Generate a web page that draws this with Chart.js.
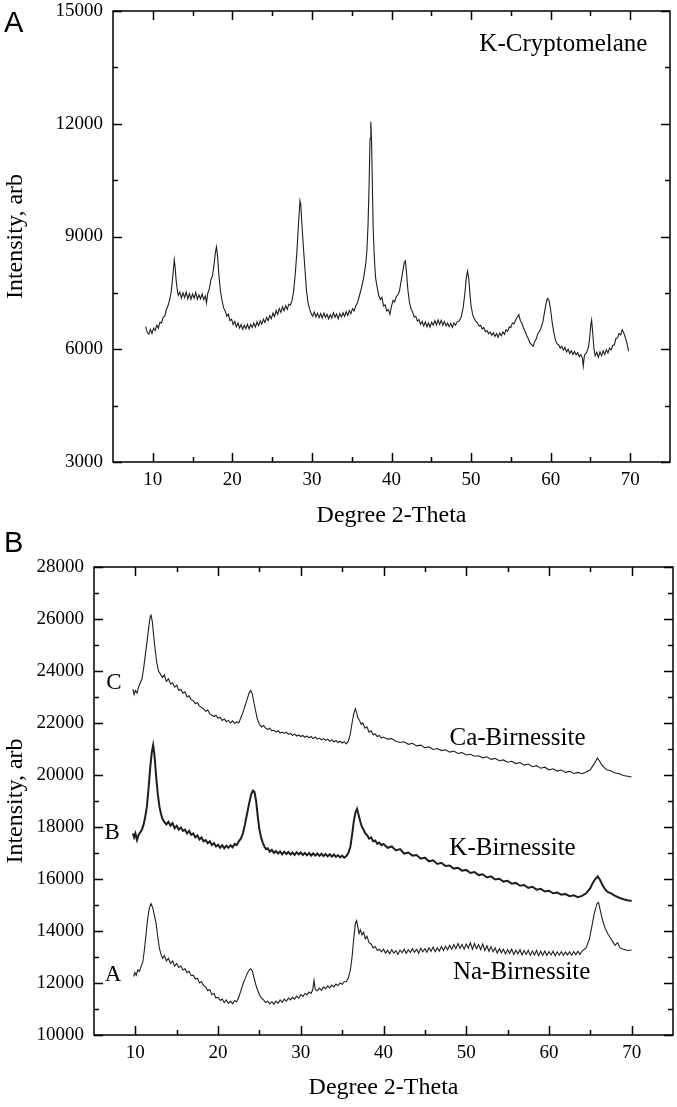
<!DOCTYPE html>
<html><head><meta charset="utf-8">
<script src="https://cdn.jsdelivr.net/npm/chart.js@4.4.1/dist/chart.umd.min.js"></script>
<style>
html,body{margin:0;padding:0;background:#fff;}
body{width:677px;height:1107px;position:relative;overflow:hidden;}
.wrap{position:absolute;left:0;width:677px;}
#wa{top:0;height:540px;}
#wb{top:540px;height:567px;}
.panel{position:absolute;left:4px;font-family:"Liberation Sans",Arial,sans-serif;font-size:29px;line-height:29px;color:#000;}
</style></head><body>
<div class="wrap" id="wa"><canvas id="ca" width="677" height="540"></canvas></div>
<div class="wrap" id="wb"><canvas id="cb" width="677" height="567"></canvas></div>
<div class="panel" style="top:8px">A</div>
<div class="panel" style="top:528px">B</div>
<script>
// ---------- Data ----------
const xMajorTicks = [10, 20, 30, 40, 50, 60, 70];
const xMinorTicks = [15, 25, 35, 45, 55, 65];
const yTicksA = [3000, 6000, 9000, 12000, 15000];
const yMinorA = [4500, 7500, 10500, 13500];
const yTicksB = [10000, 12000, 14000, 16000, 18000, 20000, 22000, 24000, 26000, 28000];
const yMinorB = [11000, 13000, 15000, 17000, 19000, 21000, 23000, 25000, 27000];

const kCryptomelane = [
[9.1,6600],[9.3,6450],[9.5,6400],[9.7,6530],[9.9,6420],[10.1,6560],[10.3,6500],[10.5,6640],[10.7,6560],[10.9,6720],
[11.1,6700],[11.3,6850],[11.5,6880],[11.7,7050],[11.9,7150],[12.1,7300],[12.3,7500],[12.45,7800],[12.6,8150],[12.7,8380],
[12.8,8200],[12.95,7800],[13.1,7550],[13.2,7430],[13.4,7520],[13.6,7360],[13.8,7500],[14,7380],[14.2,7520],[14.4,7340],
[14.6,7480],[14.8,7330],[15,7470],[15.2,7360],[15.4,7510],[15.6,7330],[15.8,7450],[16,7340],[16.2,7470],[16.4,7320],
[16.6,7420],[16.75,7230],[16.9,7480],[17.1,7600],[17.3,7850],[17.5,7950],[17.7,8250],[17.85,8550],[18,8720],[18.15,8450],
[18.3,8000],[18.5,7550],[18.7,7300],[18.9,7100],[19.1,7020],[19.3,6880],[19.5,6930],[19.7,6760],[19.9,6800],[20.1,6660],
[20.3,6740],[20.5,6600],[20.7,6700],[20.9,6560],[21.1,6660],[21.3,6530],[21.5,6640],[21.7,6550],[21.9,6660],[22.1,6540],
[22.3,6660],[22.5,6580],[22.7,6690],[22.9,6590],[23.1,6730],[23.3,6630],[23.5,6760],[23.7,6670],[23.9,6800],[24.1,6710],
[24.3,6850],[24.5,6760],[24.7,6900],[24.9,6810],[25.1,6960],[25.3,6870],[25.5,7030],[25.7,6930],[25.9,7080],[26.1,6980],
[26.3,7130],[26.5,7020],[26.7,7160],[26.9,7060],[27.1,7200],[27.3,7180],[27.5,7300],[27.7,7550],[27.9,8000],[28.1,8550],
[28.3,9300],[28.5,9950],[28.6,9850],[28.75,9300],[28.9,8800],[29.1,8200],[29.3,7600],[29.5,7250],[29.7,7080],[29.9,6950],
[30.1,6880],[30.3,6990],[30.5,6860],[30.7,6960],[30.9,6840],[31.1,6950],[31.3,6830],[31.5,6960],[31.7,6850],[31.9,6930],
[32.1,6810],[32.3,6920],[32.5,6830],[32.7,6970],[32.9,6850],[33.1,6940],[33.3,6810],[33.5,6950],[33.7,6860],[33.9,6970],
[34.1,6870],[34.3,7000],[34.5,6900],[34.7,7030],[34.9,6950],[35.1,7080],[35.3,7020],[35.5,7150],[35.75,7250],[36,7450],
[36.25,7650],[36.5,7900],[36.75,8250],[36.9,8600],[37.05,9300],[37.2,10500],[37.3,11600],[37.4,12050],[37.5,11500],[37.6,10300],
[37.7,9200],[37.85,8400],[38,7900],[38.2,7650],[38.4,7430],[38.6,7320],[38.8,7380],[39,7150],[39.2,7180],[39.4,7020],
[39.6,7060],[39.8,6930],[40,7150],[40.2,7300],[40.4,7260],[40.6,7400],[40.8,7450],[41,7550],[41.2,7800],[41.4,8050],
[41.6,8300],[41.75,8350],[41.9,8000],[42.05,7600],[42.25,7250],[42.45,7080],[42.65,6990],[42.85,6860],[43.05,6880],[43.25,6750],
[43.45,6790],[43.65,6660],[43.85,6740],[44.05,6620],[44.25,6730],[44.45,6600],[44.65,6700],[44.85,6590],[45.05,6720],[45.25,6640],
[45.45,6760],[45.65,6650],[45.85,6780],[46.05,6660],[46.25,6770],[46.45,6640],[46.65,6740],[46.85,6620],[47.05,6700],[47.25,6600],
[47.45,6690],[47.65,6580],[47.85,6700],[48.05,6640],[48.25,6730],[48.5,6750],[48.75,6850],[49,7100],[49.2,7450],[49.4,7900],
[49.55,8080],[49.7,7900],[49.85,7500],[50,7150],[50.2,6920],[50.4,6820],[50.6,6740],[50.8,6700],[51,6620],[51.2,6640],
[51.4,6540],[51.6,6580],[51.8,6470],[52,6500],[52.2,6410],[52.4,6460],[52.6,6370],[52.8,6440],[53,6340],[53.2,6420],
[53.4,6320],[53.6,6430],[53.8,6360],[54,6460],[54.2,6400],[54.4,6520],[54.6,6480],[54.8,6600],[55,6580],[55.2,6700],
[55.4,6680],[55.6,6780],[55.8,6850],[56,6920],[56.2,6760],[56.4,6690],[56.6,6560],[56.8,6470],[57,6360],[57.2,6280],
[57.4,6170],[57.6,6120],[57.8,6080],[58,6210],[58.2,6280],[58.4,6420],[58.6,6480],[58.8,6580],[59,6700],[59.2,6950],
[59.4,7200],[59.6,7350],[59.8,7300],[60,7050],[60.2,6700],[60.4,6450],[60.6,6250],[60.8,6150],[61,6120],[61.2,6030],
[61.4,6080],[61.6,5980],[61.8,6050],[62,5930],[62.2,6000],[62.4,5890],[62.6,5960],[62.8,5860],[63,5940],[63.2,5850],
[63.4,5910],[63.6,5800],[63.8,5860],[64,5760],[64.1,5550],[64.25,5850],[64.5,5900],[64.75,6050],[64.9,6300],[65.05,6650],
[65.15,6780],[65.3,6400],[65.45,6000],[65.6,5830],[65.8,5920],[66,5790],[66.2,5930],[66.4,5830],[66.6,5960],[66.8,5860],
[67,5990],[67.2,5900],[67.4,6030],[67.6,5980],[67.8,6100],[68,6120],[68.2,6280],[68.4,6300],[68.6,6420],[68.8,6380],
[69,6520],[69.2,6430],[69.4,6300],[69.6,6150],[69.8,5950]
];

const caBirnessite = [
[9.7,23300],[9.85,23100],[10,23250],[10.2,23150],[10.4,23400],[10.6,23550],[10.8,23700],[11,24100],[11.2,24600],[11.4,25100],
[11.6,25650],[11.8,26100],[11.9,26150],[12.05,25900],[12.2,25400],[12.4,24800],[12.6,24300],[12.8,24000],[13,23900],[13.25,23750],
[13.5,23850],[13.75,23600],[14,23700],[14.25,23500],[14.5,23550],[14.75,23380],[15,23450],[15.25,23250],[15.5,23300],[15.75,23150],
[16,23200],[16.25,23000],[16.5,23050],[16.75,22900],[17,22850],[17.25,22750],[17.5,22780],[17.75,22650],[18,22600],[18.25,22550],
[18.5,22450],[18.75,22500],[19,22350],[19.25,22300],[19.5,22250],[19.75,22300],[20,22180],[20.25,22220],[20.5,22100],[20.75,22150],
[21,22050],[21.25,22100],[21.5,22000],[21.75,22080],[22,21980],[22.25,22050],[22.5,22000],[22.75,22200],[23,22400],[23.25,22650],
[23.5,22900],[23.75,23150],[23.95,23250],[24.15,23100],[24.35,22750],[24.55,22450],[24.75,22150],[25,21950],[25.25,21850],[25.5,21900],
[25.75,21800],[26,21750],[26.25,21800],[26.5,21700],[26.75,21720],[27,21650],[27.25,21700],[27.5,21620],[27.75,21650],[28,21600],
[28.25,21650],[28.5,21560],[28.75,21600],[29,21520],[29.25,21580],[29.5,21500],[29.75,21540],[30,21480],[30.25,21520],[30.5,21450],
[30.75,21500],[31,21430],[31.25,21480],[31.5,21400],[31.75,21460],[32,21380],[32.25,21420],[32.5,21350],[32.75,21400],[33,21330],
[33.25,21380],[33.5,21300],[33.75,21350],[34,21280],[34.25,21320],[34.5,21250],[34.75,21300],[35,21230],[35.25,21280],[35.5,21200],
[35.75,21300],[36,21600],[36.2,22000],[36.4,22350],[36.6,22550],[36.75,22400],[36.9,22200],[37.1,22100],[37.3,21950],[37.5,22000],
[37.75,21800],[38,21850],[38.25,21650],[38.5,21700],[38.75,21550],[39,21580],[39.25,21480],[39.5,21520],[39.75,21420],[40,21460],
[40.5,21380],[41,21400],[41.5,21300],[42,21250],[42.5,21280],[43,21180],[43.5,21220],[44,21120],[44.5,21150],[45,21050],
[45.5,21080],[46,20980],[46.5,21020],[47,20940],[47.5,20970],[48,20880],[48.5,20920],[49,20830],[49.5,20860],[50,20770],
[50.5,20800],[51,20720],[51.5,20740],[52,20660],[52.5,20700],[53,20600],[53.5,20640],[54,20550],[54.5,20580],[55,20490],
[55.5,20530],[56,20440],[56.5,20480],[57,20380],[57.5,20420],[58,20320],[58.5,20360],[59,20260],[59.5,20300],[60,20200],
[60.5,20240],[61,20150],[61.5,20190],[62,20100],[62.5,20140],[63,20060],[63.5,20100],[64,20050],[64.5,20120],[65,20200],
[65.3,20350],[65.6,20500],[65.85,20650],[66.1,20550],[66.4,20380],[66.7,20280],[67,20200],[67.5,20150],[68,20080],[68.5,20050],
[69,19980],[69.5,19950],[70,19920]
];

const kBirnessite = [
[9.7,17750],[9.85,17600],[10,17750],[10.2,17500],[10.4,17700],[10.6,17800],[10.8,17900],[11,18100],[11.2,18400],[11.4,18800],
[11.6,19500],[11.8,20300],[12,20900],[12.15,21150],[12.3,20800],[12.5,20000],[12.7,19300],[12.9,18800],[13.1,18500],[13.3,18300],
[13.5,18200],[13.75,18100],[14,18200],[14.25,18050],[14.5,18150],[14.75,17950],[15,18050],[15.25,17900],[15.5,17980],[15.75,17850],
[16,17900],[16.25,17750],[16.5,17850],[16.75,17700],[17,17750],[17.25,17600],[17.5,17680],[17.75,17520],[18,17600],[18.25,17450],
[18.5,17500],[18.75,17380],[19,17450],[19.25,17300],[19.5,17380],[19.75,17250],[20,17320],[20.25,17200],[20.5,17300],[20.75,17180],
[21,17280],[21.25,17200],[21.5,17300],[21.75,17220],[22,17350],[22.25,17300],[22.5,17450],[22.75,17550],[23,17750],[23.25,18100],
[23.5,18500],[23.75,18900],[24,19250],[24.2,19400],[24.4,19350],[24.6,19000],[24.8,18400],[25,17900],[25.2,17600],[25.4,17400],
[25.6,17250],[25.8,17150],[26,17180],[26.25,17050],[26.5,17120],[26.75,17000],[27,17080],[27.25,16980],[27.5,17060],[27.75,16950],
[28,17050],[28.25,16960],[28.5,17040],[28.75,16940],[29,17020],[29.25,16930],[29.5,17030],[29.75,16950],[30,17020],[30.25,16920],
[30.5,17000],[30.75,16910],[31,17000],[31.25,16900],[31.5,16990],[31.75,16900],[32,16980],[32.25,16890],[32.5,16970],[32.75,16880],
[33,16960],[33.25,16870],[33.5,16950],[33.75,16860],[34,16940],[34.25,16850],[34.5,16920],[34.75,16830],[35,16900],[35.25,16820],
[35.5,16880],[35.75,17000],[36,17250],[36.2,17700],[36.4,18200],[36.6,18550],[36.8,18700],[37,18450],[37.2,18200],[37.4,18000],
[37.6,17900],[37.8,17750],[38,17700],[38.25,17550],[38.5,17600],[38.75,17450],[39,17480],[39.25,17350],[39.5,17400],[39.75,17300],
[40,17350],[40.5,17200],[41,17250],[41.5,17100],[42,17150],[42.5,16980],[43,17020],[43.5,16900],[44,16920],[44.5,16780],
[45,16820],[45.5,16680],[46,16720],[46.5,16580],[47,16620],[47.5,16500],[48,16520],[48.5,16400],[49,16430],[49.5,16320],
[50,16350],[50.5,16230],[51,16270],[51.5,16150],[52,16180],[52.5,16060],[53,16100],[53.5,15980],[54,16010],[54.5,15900],
[55,15930],[55.5,15820],[56,15850],[56.5,15740],[57,15770],[57.5,15660],[58,15700],[58.5,15590],[59,15620],[59.5,15520],
[60,15550],[60.5,15450],[61,15480],[61.5,15400],[62,15420],[62.5,15340],[63,15370],[63.5,15300],[64,15350],[64.5,15450],
[65,15650],[65.3,15850],[65.6,16000],[65.9,16100],[66.2,15950],[66.5,15750],[66.8,15600],[67.1,15500],[67.5,15450],[68,15350],
[68.5,15280],[69,15220],[69.5,15180],[70,15150]
];

const naBirnessite = [
[9.8,12250],[9.95,12400],[10.1,12300],[10.3,12500],[10.5,12450],[10.7,12650],[10.9,12800],[11.1,13300],[11.3,13900],[11.5,14500],
[11.7,14900],[11.9,15050],[12.1,14900],[12.3,14600],[12.5,14300],[12.7,13800],[12.9,13350],[13.1,13100],[13.3,12950],[13.5,13050],
[13.75,12850],[14,12950],[14.25,12750],[14.5,12850],[14.75,12650],[15,12750],[15.25,12600],[15.5,12650],[15.75,12500],[16,12550],
[16.25,12400],[16.5,12450],[16.75,12280],[17,12300],[17.25,12150],[17.5,12180],[17.75,12000],[18,12050],[18.25,11900],[18.5,11850],
[18.75,11700],[19,11750],[19.25,11550],[19.5,11600],[19.75,11420],[20,11450],[20.25,11330],[20.5,11380],[20.75,11250],[21,11350],
[21.25,11220],[21.5,11300],[21.75,11200],[22,11320],[22.25,11280],[22.5,11450],[22.75,11700],[23,11950],[23.25,12150],[23.5,12350],
[23.75,12500],[23.95,12550],[24.15,12450],[24.35,12200],[24.55,11950],[24.75,11750],[25,11550],[25.25,11420],[25.5,11350],[25.75,11250],
[26,11300],[26.25,11200],[26.5,11280],[26.75,11180],[27,11300],[27.25,11220],[27.5,11350],[27.75,11260],[28,11380],[28.25,11300],
[28.5,11420],[28.75,11350],[29,11450],[29.25,11380],[29.5,11500],[29.75,11420],[30,11550],[30.25,11480],[30.5,11600],[30.75,11550],
[31,11650],[31.25,11600],[31.45,11750],[31.6,12100],[31.75,11750],[32,11700],[32.25,11800],[32.5,11720],[32.75,11850],[33,11780],
[33.25,11880],[33.5,11820],[33.75,11920],[34,11850],[34.25,11960],[34.5,11900],[34.75,12000],[35,11950],[35.25,12050],[35.5,12050],
[35.75,12200],[36,12500],[36.2,13000],[36.4,13700],[36.6,14300],[36.75,14400],[36.9,14150],[37.05,13900],[37.2,14050],[37.4,13850],
[37.6,13950],[37.8,13700],[38,13800],[38.25,13550],[38.5,13500],[38.75,13350],[39,13400],[39.25,13250],[39.5,13300],[39.75,13200],
[40,13300],[40.25,13150],[40.5,13260],[40.75,13120],[41,13280],[41.25,13150],[41.5,13240],[41.75,13100],[42,13270],[42.25,13160],
[42.5,13300],[42.75,13140],[43,13280],[43.25,13170],[43.5,13320],[43.75,13180],[44,13300],[44.25,13150],[44.5,13340],[44.75,13200],
[45,13320],[45.25,13180],[45.5,13360],[45.75,13220],[46,13380],[46.25,13200],[46.5,13350],[46.75,13230],[47,13400],[47.25,13250],
[47.5,13420],[47.75,13280],[48,13450],[48.25,13300],[48.5,13480],[48.75,13320],[49,13520],[49.25,13330],[49.5,13480],[49.75,13300],
[50,13500],[50.25,13340],[50.5,13550],[50.75,13300],[51,13520],[51.25,13320],[51.5,13480],[51.75,13280],[52,13500],[52.25,13250],
[52.5,13430],[52.75,13220],[53,13400],[53.25,13200],[53.5,13350],[53.75,13150],[54,13320],[54.25,13160],[54.5,13300],[54.75,13120],
[55,13280],[55.25,13140],[55.5,13300],[55.75,13100],[56,13260],[56.25,13120],[56.5,13280],[56.75,13080],[57,13250],[57.25,13100],
[57.5,13260],[57.75,13060],[58,13230],[58.25,13080],[58.5,13250],[58.75,13050],[59,13220],[59.25,13070],[59.5,13230],[59.75,13060],
[60,13210],[60.25,13080],[60.5,13220],[60.75,13050],[61,13200],[61.25,13070],[61.5,13210],[61.75,13060],[62,13190],[62.25,13080],
[62.5,13200],[62.75,13070],[63,13210],[63.25,13090],[63.5,13220],[63.75,13100],[64,13230],[64.5,13350],
[64.9,13700],[65.2,14200],[65.5,14700],[65.8,15050],[66,15100],[66.2,14800],[66.5,14400],[66.8,14100],[67.1,13900],[67.4,13750],
[67.7,13600],[68,13450],[68.3,13550],[68.6,13350],[69,13300],[69.5,13250],[70,13270]
];

// ---------- Drawing helpers ----------
const SERIF = '"Liberation Serif","Times New Roman",serif';
const toXY = arr => arr.map(p => ({x: p[0], y: p[1]}));

const frameTicks = {
  id: 'frameTicks',
  afterDatasetsDraw(chart, args, o) {
    const {ctx, chartArea: a, scales: {x, y}} = chart;
    ctx.save();
    ctx.strokeStyle = '#000';
    ctx.lineWidth = 1.5;
    ctx.strokeRect(a.left, a.top, a.right - a.left, a.bottom - a.top);
    ctx.beginPath();
    const seg = (x1, y1, x2, y2) => { ctx.moveTo(x1, y1); ctx.lineTo(x2, y2); };
    const xt = (vals, len) => vals.forEach(v => { const p = Math.round(x.getPixelForValue(v)) + 0.5; seg(p, a.bottom, p, a.bottom - len); seg(p, a.top, p, a.top + len); });
    const yt = (vals, len) => vals.forEach(v => { const p = Math.round(y.getPixelForValue(v)) + 0.5; seg(a.left, p, a.left + len, p); seg(a.right, p, a.right - len, p); });
    xt(o.xMajor, 9); xt(o.xMinor, 5); yt(o.yMajor, 9); yt(o.yMinor, 5);
    ctx.stroke();
    ctx.fillStyle = '#000';
    ctx.textAlign = 'center';
    ctx.textBaseline = 'middle';
    (o.labels || []).forEach(l => {
      ctx.font = l.size + 'px ' + SERIF;
      ctx.fillText(l.text, x.getPixelForValue(l.x), y.getPixelForValue(l.y));
    });
    ctx.restore();
  }
};

function makeChart(id, datasets, cfg) {
  return new Chart(document.getElementById(id), {
    type: 'line',
    data: { datasets },
    options: {
      responsive: false,
      animation: false,
      events: [],
      layout: { padding: cfg.padding },
      elements: { point: { radius: 0 }, line: { tension: 0 } },
      plugins: {
        legend: { display: false }, tooltip: { enabled: false },
        frameTicks: { xMajor: xMajorTicks, xMinor: xMinorTicks, yMajor: cfg.yTicks, yMinor: cfg.yMinor, labels: cfg.labels }
      },
      scales: {
        x: {
          type: 'linear', min: 5, max: 75,
          grid: { display: false, drawTicks: false }, border: { display: false },
          afterBuildTicks: s => { s.ticks = xMajorTicks.map(v => ({value: v})); },
          afterFit: s => { s.height = cfg.xHeight; s.paddingLeft = 0; s.paddingRight = 0; },
          ticks: { padding: 7, color: '#000', font: { family: SERIF, size: 19 }, maxRotation: 0, callback: v => String(v) },
          title: { display: true, text: 'Degree 2-Theta', color: '#000', font: { family: SERIF, size: 24 }, padding: { top: 0, bottom: cfg.xTitlePad } }
        },
        y: {
          type: 'linear', min: cfg.yMin, max: cfg.yMax,
          grid: { display: false, drawTicks: false }, border: { display: false },
          afterBuildTicks: s => { s.ticks = cfg.yTicks.map(v => ({value: v})); },
          afterFit: s => { s.width = cfg.yWidth; s.paddingTop = 0; s.paddingBottom = 0; },
          ticks: { padding: 10, color: '#000', font: { family: SERIF, size: 19 }, callback: v => String(v) },
          title: { display: true, text: 'Intensity, arb', color: '#000', font: { family: SERIF, size: 24 }, padding: { top: 1, bottom: 0 } }
        }
      }
    },
    plugins: [frameTicks]
  });
}

const lineStyle = (data, w) => ({ data: toXY(data), borderColor: '#1e1e1e', borderWidth: w, fill: false, pointRadius: 0 });

makeChart('ca', [lineStyle(kCryptomelane, 1.1)], {
  padding: { top: 11, right: 7, left: 0, bottom: 0 },
  xHeight: 78, yWidth: 113, xTitlePad: 10,
  yMin: 3000, yMax: 15000, yTicks: yTicksA, yMinor: yMinorA,
  labels: [{ text: 'K-Cryptomelane', x: 61.6, y: 14120, size: 25 }]
});

makeChart('cb', [lineStyle(caBirnessite, 1.1), lineStyle(kBirnessite, 2), lineStyle(naBirnessite, 1.1)], {
  padding: { top: 27, right: 4, left: 0, bottom: 0 },
  xHeight: 72, yWidth: 94, xTitlePad: 5,
  yMin: 10000, yMax: 28000, yTicks: yTicksB, yMinor: yMinorB,
  labels: [
    { text: 'Ca-Birnessite', x: 56.2, y: 21420, size: 25 },
    { text: 'K-Birnessite', x: 55.6, y: 17190, size: 25 },
    { text: 'Na-Birnessite', x: 56.7, y: 12390, size: 25 },
    { text: 'C', x: 7.4, y: 23540, size: 23 },
    { text: 'B', x: 7.2, y: 17770, size: 23 },
    { text: 'A', x: 7.3, y: 12310, size: 23 }
  ]
});
</script>
</body></html>
